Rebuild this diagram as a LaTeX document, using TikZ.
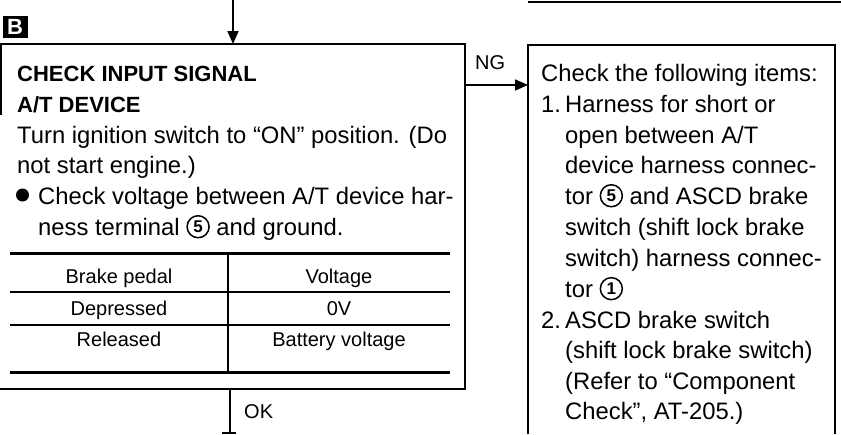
\documentclass[tikz,border=0pt]{standalone}
\usepackage{fontspec}
\setmainfont{Liberation Sans}
\usetikzlibrary{arrows.meta}
\begin{document}
\begin{tikzpicture}[x=1pt,y=-1pt,
  txt/.style={anchor=base west, inner sep=0pt, font=\fontsize{23.8}{28}\selectfont},
  hdr/.style={anchor=base west, inner sep=0pt, font=\fontsize{22}{26}\selectfont\bfseries},
  cell/.style={anchor=base, inner sep=0pt, font=\fontsize{20}{24}\selectfont},
  lbl/.style={anchor=base west, inner sep=0pt, font=\fontsize{20}{22}\selectfont},
  boxline/.style={line width=1.6pt},
  thin/.style={line width=1.2pt},
  thick/.style={line width=3pt},
  arr/.style={line width=1.6pt,-{Triangle[length=13pt,width=11pt]}},
  cnumstyle/.style={draw, circle, line width=1.5pt, inner sep=0pt, minimum size=22pt,
    font=\fontsize{17}{17}\selectfont\bfseries}
]
\useasboundingbox (0,0) rectangle (841,434);
\newcommand\cnum[1]{\raisebox{2.5pt}{\tikz[baseline=(cn.base)]\node[cnumstyle] (cn) {#1};}}
% previous box bottom (top right)
\coordinate (pba) at (528,2);
\coordinate (pbb) at (841,2);
\draw[boxline] (pba) -- (pbb);
% B icon
\node[fill=black, text=white, inner sep=0pt, minimum width=25pt, minimum height=22pt,
  font=\fontsize{22}{22}\selectfont\bfseries] (bicon) at (15,27) {B};
% left box
\coordinate (ltop) at (233,44);
\coordinate (ltl) at (0.8,44);
\coordinate (ltr) at (465,44);
\coordinate (lbr) at (465,389);
\coordinate (lbl) at (0,389);
\coordinate (lleft) at (0.8,115);
\draw[boxline] (lleft) -- (ltl) -- (ltr) -- (lbr) -- (lbl);
\coordinate (intop) at (233,0);
\draw[arr] (intop) -- (ltop);
% right box
\coordinate (rtl) at (528,45);
\coordinate (rtr) at (835,45);
\coordinate (rbl) at (528,434);
\coordinate (rbr) at (835,434);
\draw[boxline] (rbl) -- (rtl) -- (rtr) -- (rbr);
% NG arrow
\coordinate (ngs) at (465,85);
\coordinate (nge) at (528,85);
\draw[arr] (ngs) -- (nge);
\node[lbl] (ng) at (475,69) {NG};
% OK
\coordinate (oks) at (230,389);
\coordinate (oke) at (230,433);
\draw[boxline] (oks) -- (oke);
\coordinate (tka) at (222,433);
\coordinate (tkb) at (236,433);
\draw[thin] (tka) -- (tkb);
\node[lbl] (ok) at (244,418) {OK};
% left text
\node[hdr] (h1) at (17,81) {CHECK INPUT SIGNAL};
\node[hdr] (h2) at (17,112) {A/T DEVICE};
\node[txt] (t1) at (17,143) {Turn ignition switch to “ON” position. (Do};
\node[txt] (t2) at (17,173) {not start engine.)};
\node[circle, fill=black, inner sep=0pt, minimum size=13pt] (bul) at (22.5,195) {};
\node[txt] (t3) at (38,204) {Check voltage between A/T device har-};
\node[txt] (t4) at (38,235) {ness terminal \cnum{5} and ground.};
% table
\coordinate (ta) at (10,253); \coordinate (tb) at (450,253);
\coordinate (tc) at (10,292); \coordinate (td) at (450,292);
\coordinate (te) at (10,325); \coordinate (tf) at (450,325);
\coordinate (tg) at (10,372); \coordinate (th) at (450,372);
\coordinate (va) at (228,253); \coordinate (vb) at (228,372);
\draw[thick] (ta) -- (tb);
\draw[thin] (tc) -- (td);
\draw[thin] (te) -- (tf);
\draw[thick] (tg) -- (th);
\draw[thin] (va) -- (vb);
\node[cell] (c11) at (119,283) {Brake pedal};
\node[cell] (c12) at (339,283) {Voltage};
\node[cell] (c21) at (119,315) {Depressed};
\node[cell] (c22) at (339,315) {0V};
\node[cell] (c31) at (119,346) {Released};
\node[cell] (c32) at (339,346) {Battery voltage};
% right text
\node[txt] (r1) at (541,81) {Check the following items:};
\node[txt] (r2n) at (541,112) {1.};
\node[txt] (r2) at (565,112) {Harness for short or};
\node[txt] (r3) at (565,143) {open between A/T};
\node[txt] (r4) at (565,173) {device harness connec-};
\node[txt] (r5) at (565,204) {tor \cnum{5} and ASCD brake};
\node[txt] (r6) at (565,235) {switch (shift lock brake};
\node[txt] (r7) at (565,266) {switch) harness connec-};
\node[txt] (r8) at (565,297) {tor \cnum{1}};
\node[txt] (r9n) at (541,328) {2.};
\node[txt] (r9) at (565,328) {ASCD brake switch};
\node[txt] (r10) at (565,358) {(shift lock brake switch)};
\node[txt] (r11) at (565,389) {(Refer to “Component};
\node[txt] (r12) at (565,419) {Check”, AT-205.)};
\end{tikzpicture}
\end{document}
